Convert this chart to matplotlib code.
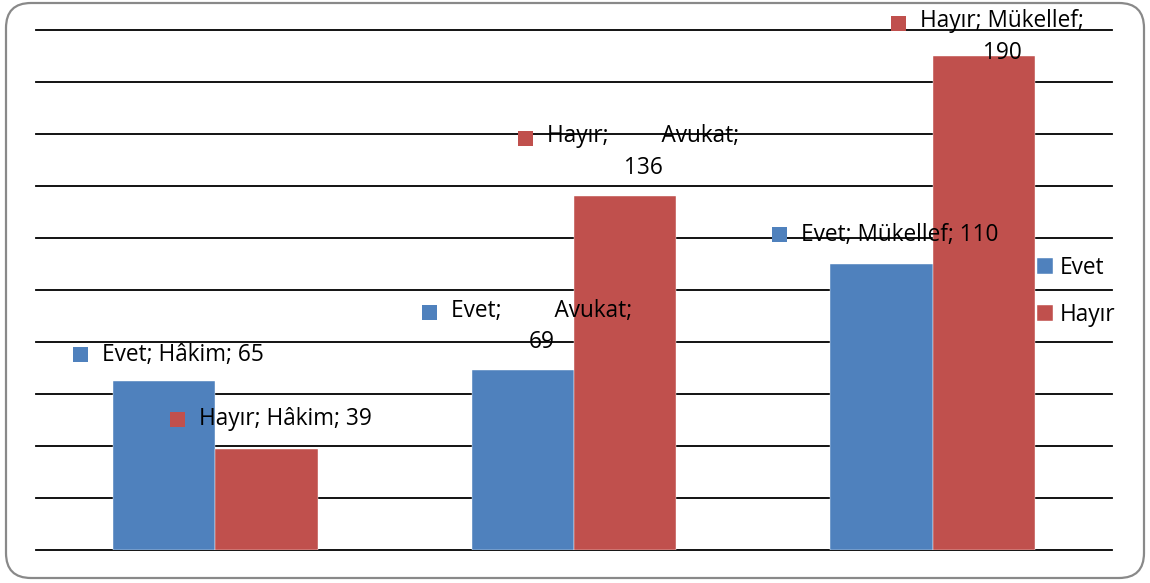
import numpy as np
import matplotlib.pyplot as plt
from matplotlib.patches import FancyBboxPatch, Rectangle
from matplotlib.transforms import IdentityTransform

categories = ['Hâkim', 'Avukat', 'Mükellef']
series_names = ['Evet', 'Hayır']
evet = [65, 69, 110]
hayir = [39, 136, 190]
colors = ['#4F81BD', '#C0504D']

# data label layout: pixel offset of label centre above bar top, and wrapped labels
label_dy = [[26, 44, 29], [29.5, 44, 18.5]]
wrapped = {(0, 1): '         ', (1, 1): '         ', (1, 2): ' '}

plt.rcParams['font.family'] = ['Open Sans', 'DejaVu Sans']
FS = 16.3

W, H = 1150, 583
fig = plt.figure(figsize=(W / 100, H / 100), dpi=100)
ax = fig.add_axes([36 / W, 33 / H, (1112 - 36) / W, (550 - 29.5) / H])

x = np.arange(len(categories))
bw = 0.285
values = [evet, hayir]
offs = [-bw / 2, bw / 2]
for s in range(2):
    ax.bar(x + offs[s], values[s], bw, color=colors[s], label=series_names[s],
           zorder=2, edgecolor='white', linewidth=0.3)

ax.set_xlim(-0.5, 2.5)
ax.set_ylim(0, 200)
ax.set_yticks(np.arange(0, 201, 20))
ax.yaxis.grid(True, color='black', lw=1.3)
for gl in ax.get_ygridlines():
    gl.set_clip_on(False)
ax.set_axisbelow(True)
for sp in ax.spines.values():
    sp.set_visible(False)
ax.tick_params(left=False, bottom=False, labelleft=False, labelbottom=False)

# data labels with legend keys
texts = []
for s in range(2):
    for i, c in enumerate(categories):
        v = values[s][i]
        if (s, i) in wrapped:
            txt = f"{series_names[s]};{wrapped[(s, i)]}{c};\n{v}"
        else:
            txt = f"{series_names[s]}; {c}; {v}"
        t = ax.annotate(txt, xy=(x[i] + offs[s], v), xytext=(18.5, label_dy[s][i]),
                        textcoords='offset pixels', ha='center', va='center',
                        multialignment='center', fontsize=FS, color='black',
                        linespacing=1.4, zorder=5, annotation_clip=False)
        texts.append((t, s, '\n' in txt))

leg = ax.legend(loc='upper left', bbox_to_anchor=(1028 / W, 1 - 247 / H),
                bbox_transform=fig.transFigure, frameon=False, fontsize=FS,
                handlelength=0.7, handleheight=0.7, handletextpad=0.3,
                labelspacing=1.02, borderaxespad=0)

fig.canvas.draw()
r = fig.canvas.get_renderer()
for t, s, multi in texts:
    bb = t.get_window_extent(r)
    if multi:
        cy = bb.y1 - bb.height / 4
    else:
        cy = (bb.y0 + bb.y1) / 2
    fig.patches.append(Rectangle((bb.x0 - 29, cy - 7.5), 15, 15, transform=IdentityTransform(),
                                 facecolor=colors[s], edgecolor='none', figure=fig))

fig.patches.append(FancyBboxPatch((6, 5), 1138, 575, boxstyle='round,pad=0,rounding_size=25',
                                  transform=IdentityTransform(), facecolor='none',
                                  edgecolor='#898989', linewidth=1.6, figure=fig))

fig.savefig('out.png', dpi=100)
